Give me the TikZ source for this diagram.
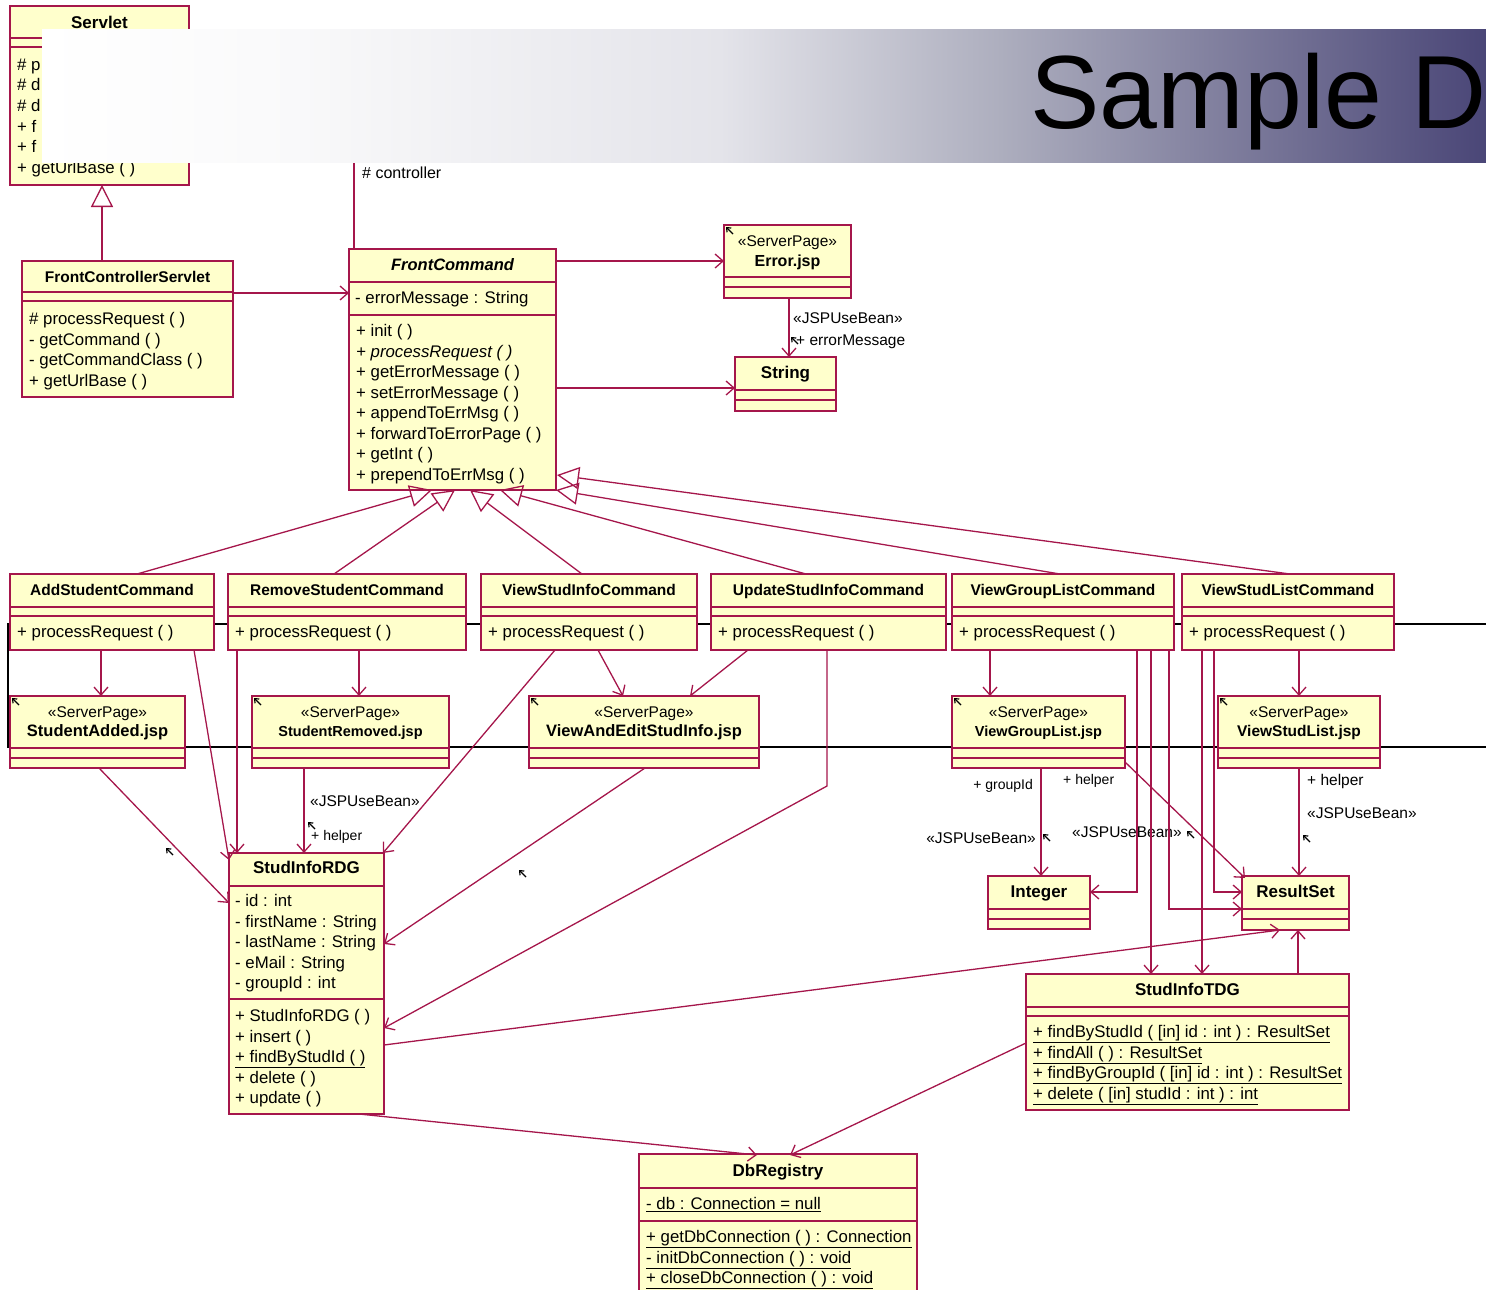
\documentclass[tikz,border=0pt]{standalone}
\usepackage{fontspec}
\setmainfont{Liberation Sans}
\usetikzlibrary{arrows.meta,calc}

\definecolor{umlfill}{HTML}{FFFFCC}
\definecolor{umlline}{HTML}{A5164B}
\definecolor{bandA}{HTML}{F9F9FA}
\definecolor{bandM}{HTML}{E4E4EA}
\definecolor{bandB}{HTML}{ADAEBE}
\definecolor{bandC}{HTML}{4A4677}

\tikzset{
  classbox/.style={draw=umlline, fill=umlfill, line width=1.4pt, inner sep=0pt, outer sep=0pt, anchor=north west},
  dep/.style={draw=umlline, line width=1.3pt, -{Straight Barb[length=8pt,width=14pt]}},
  assoc/.style={draw=umlline, line width=1.3pt},
  gen/.style={draw=umlline, line width=1.3pt, -{Triangle[open,length=22pt,width=22pt]}},
  sepline/.style={draw=umlline, line width=1.2pt},
  member/.style={inner sep=0pt, anchor=base west, font=\fontsize{16.8}{19}\selectfont},
  ctitle/.style={inner sep=0pt, anchor=base, font=\fontsize{#1}{20}\selectfont\bfseries},
  ctitle/.default=15.5,
  stereo/.style={inner sep=0pt, anchor=base, font=\fontsize{15.5}{18}\selectfont},
  lbl/.style={inner sep=0pt, anchor=base west, font=\fontsize{15.5}{18}\selectfont},
  smalllbl/.style={inner sep=0pt, anchor=base west, font=\fontsize{14}{16}\selectfont},
  nwmark/.pic={\draw[black, line width=1.2pt, -{Straight Barb[length=3.5pt,width=6pt]}] (7,7) -- (0,0);}
}

% class box: name, left, top, right, bottom (in px, y downwards)
\newcommand\umlclass[5]{%
  \node[classbox, minimum width={(#4-#2)*1pt}, minimum height={(#5-#3)*1pt}] (#1) at (#2,#3) {};}
% compartment separator at a given depth below the top edge
\newcommand\compsep[2]{%
  \draw[sepline] ($(#1.north west)+(0,#2)$) -- ($(#1.north east)+(0,#2)$);}
% list of member lines: prefix, box, dx, first baseline dy, entries
\newcommand\rows[5]{%
  \foreach \entry [count=\i] in {#5} {%
    \node[member] (#1-\i) at ($(#2.north west)+(#3,{#4+(\i-1)*20.5})$) {\entry};}}

\begin{document}
\begin{tikzpicture}[x=1pt,y=-1pt]
\useasboundingbox (0,0) rectangle (1486,1290);
\clip (0,0) rectangle (1486,1290);

% black frame lines running behind the command row
\draw[black, line width=2pt] (1492,624) -- (8,624) -- (8,747) -- (1492,747);

% ---------- classes ----------
\umlclass{sv}{10}{6}{189}{185}
\umlclass{fcs}{22}{261}{233}{397}
\umlclass{fc}{349}{249}{556}{490}
\umlclass{err}{724}{225}{851}{298}
\umlclass{str}{735}{357}{836}{411}
\umlclass{add}{10}{574}{214}{650}
\umlclass{rem}{228}{574}{466}{650}
\umlclass{vsi}{481}{574}{697}{650}
\umlclass{usi}{711}{574}{946}{650}
\umlclass{vgl}{952}{574}{1174}{650}
\umlclass{vsl}{1182}{574}{1394}{650}
\umlclass{sajsp}{10}{696}{185}{768}
\umlclass{srjsp}{252}{696}{449}{768}
\umlclass{vejsp}{529}{696}{759}{768}
\umlclass{vgljsp}{952}{696}{1125}{768}
\umlclass{vsljsp}{1218}{696}{1380}{768}
\umlclass{rdg}{229}{853}{384}{1114}
\umlclass{int}{988}{876}{1090}{929}
\umlclass{rs}{1242}{876}{1349}{930}
\umlclass{tdg}{1026}{974}{1349}{1110}
\umlclass{db}{639}{1154}{917}{1320}

% Servlet
\node[ctitle=17] (sv-t) at ($(sv.north)+(0,22.5)$) {Servlet};
\compsep{sv}{32}\compsep{sv}{41}
\rows{sv}{sv}{7}{64.5}{\# p, \# d, \# d, + f, + f, + getUrlBase ( )}

% FrontControllerServlet
\node[ctitle] (fcs-t) at ($(fcs.north)+(0,21.5)$) {FrontControllerServlet};
\compsep{fcs}{31}\compsep{fcs}{40}
\rows{fcs}{fcs}{7}{63.5}{\# processRequest ( ), - getCommand ( ), - getCommandClass ( ), + getUrlBase ( )}

% FrontCommand
\node[inner sep=0pt, anchor=base, font=\fontsize{16.5}{20}\selectfont\bfseries\itshape] (fc-t) at ($(fc.north)+(0,21.5)$) {FrontCommand};
\compsep{fc}{33}
\node[member] (fc-a) at ($(fc.north west)+(6,54.5)$) {- errorMessage : String};
\compsep{fc}{66}
\rows{fc}{fc}{7}{87.5}{+ init ( ), {\itshape + processRequest ( )}, + getErrorMessage ( ), + setErrorMessage ( ), + appendToErrMsg ( ), + forwardToErrorPage ( ), + getInt ( ), + prependToErrMsg ( )}

% Error.jsp and String
\node[stereo] (err-s) at ($(err.north)+(0,21.5)$) {«ServerPage»};
\node[ctitle=16] (err-t) at ($(err.north)+(0,41.5)$) {Error.jsp};
\compsep{err}{52}\compsep{err}{62}
\node[ctitle=17] (str-t) at ($(str.north)+(0,21.5)$) {String};
\compsep{str}{33}\compsep{str}{43}

% command classes
\foreach \b/\n in {add/AddStudentCommand, rem/RemoveStudentCommand, vsi/ViewStudInfoCommand, usi/UpdateStudInfoCommand, vgl/ViewGroupListCommand, vsl/ViewStudListCommand} {
  \node[ctitle] (\b-t) at ($(\b.north)+(0,21.5)$) {\n};
  \compsep{\b}{33}\compsep{\b}{42}
  \node[member] (\b-m) at ($(\b.north west)+(7,63.5)$) {+ processRequest ( )};
}

% server pages
\foreach \b/\n/\s in {sajsp/StudentAdded.jsp/16.5, srjsp/StudentRemoved.jsp/14.5, vejsp/ViewAndEditStudInfo.jsp/16.5, vgljsp/ViewGroupList.jsp/14.5, vsljsp/ViewStudList.jsp/15.5} {
  \node[stereo] (\b-s) at ($(\b.north)+(0,21.5)$) {«ServerPage»};
  \node[ctitle=\s] (\b-t) at ($(\b.north)+(0,40.5)$) {\n};
  \compsep{\b}{52}\compsep{\b}{62}
  \pic at ($(\b.north west)+(2,2)$) {nwmark};
}
\pic at ($(err.north west)+(2,2)$) {nwmark};

% StudInfoRDG
\node[ctitle=17] (rdg-t) at ($(rdg.north)+(0,20.5)$) {StudInfoRDG};
\compsep{rdg}{33}
\rows{rdg-a}{rdg}{6}{53.5}{- id : int, - firstName : String, - lastName : String, - eMail : String, - groupId : int}
\compsep{rdg}{146}
\rows{rdg-m}{rdg}{6}{168.5}{+ StudInfoRDG ( ), + insert ( ), {\underline{+ findByStudId ( )}}, + delete ( ), + update ( )}

% Integer and ResultSet
\node[ctitle=17] (int-t) at ($(int.north)+(0,21.5)$) {Integer};
\compsep{int}{33}\compsep{int}{43}
\node[ctitle=17] (rs-t) at ($(rs.north)+(0,21.5)$) {ResultSet};
\compsep{rs}{33}\compsep{rs}{43}

% StudInfoTDG
\node[ctitle=17] (tdg-t) at ($(tdg.north)+(0,21.5)$) {StudInfoTDG};
\compsep{tdg}{33}\compsep{tdg}{42}
\rows{tdg}{tdg}{7}{63.5}{{\underline{+ findByStudId ( [in] id : int ) : ResultSet}}, {\underline{+ findAll ( ) : ResultSet}}, {\underline{+ findByGroupId ( [in] id : int ) : ResultSet}}, {\underline{+ delete ( [in] studId : int ) : int}}}

% DbRegistry
\node[ctitle=17] (db-t) at ($(db.north)+(0,22.5)$) {DbRegistry};
\compsep{db}{34}
\node[member] (db-a) at ($(db.north west)+(7,55.5)$) {\underline{- db : Connection = null}};
\compsep{db}{67}
\rows{db}{db}{7}{88.5}{{\underline{+ getDbConnection ( ) : Connection}}, {\underline{- initDbConnection ( ) : void}}, {\underline{+ closeDbConnection ( ) : void}}}

% ---------- connectors ----------
\coordinate (ctl) at ($(fc.north west)+(5,-120)$);
\draw[assoc] ($(fc.north west)+(5,0)$) -- (ctl);
\node[lbl, font=\fontsize{16}{18}\selectfont] (ctl-l) at ($(fc.north west)+(13,-70.5)$) {\# controller};

\draw[gen] ($(fcs.north west)+(80,0)$) -- ($(sv.north west)+(92,179)$);
\draw[dep] ($(fcs.north west)+(211,32)$) -- ($(fc.north west)+(0,44)$);
\draw[dep] ($(fc.north west)+(207,12)$) -- ($(err.north west)+(0,36)$);
\draw[dep] ($(fc.north west)+(207,139)$) -- ($(str.north west)+(0,31)$);
\draw[dep] ($(err.north west)+(65,73)$) -- ($(str.north west)+(54,0)$);
\node[lbl] (err-bean) at ($(err.north west)+(69,98.3)$) {«JSPUseBean»};
\node[lbl] (err-role) at ($(err.north west)+(72,120.3)$) {+ errorMessage};
\pic at ($(err.north west)+(67,112)$) {nwmark};

% generalizations to FrontCommand
\draw[gen] ($(add.north west)+(127,0)$) -- ($(fc.north west)+(83,241)$);
\draw[gen] ($(rem.north west)+(106,0)$) -- ($(fc.north west)+(106,241)$);
\draw[gen] ($(vsi.north west)+(101,0)$) -- ($(fc.north west)+(121,241)$);
\draw[gen] ($(usi.north west)+(95,0)$) -- ($(fc.north west)+(151,241)$);
\draw[gen] ($(vgl.north west)+(108,0)$) -- ($(fc.north west)+(207,241)$);
\draw[gen] ($(vsl.north west)+(108,0)$) -- ($(fc.north west)+(208,226)$);

% AddStudentCommand
\draw[dep] ($(add.north west)+(91,76)$) -- ($(sajsp.north west)+(91,0)$);
\draw[dep] ($(add.north west)+(184,76)$) -- ($(rdg.north west)+(0,7)$);
\draw[dep] ($(sajsp.north west)+(89,72)$) -- ($(rdg.north west)+(0,50)$);
\pic at ($(sajsp.north west)+(156,152)$) {nwmark};

% RemoveStudentCommand
\draw[dep] ($(rem.north west)+(131,76)$) -- ($(srjsp.north west)+(107,0)$);
\draw[dep] ($(rem.north west)+(9,76)$) -- ($(rdg.north west)+(8,0)$);
\draw[dep] ($(srjsp.north west)+(52,72)$) -- ($(rdg.north west)+(75,0)$);
\node[lbl] (sr-bean) at ($(srjsp.north west)+(58,110.3)$) {«JSPUseBean»};
\node[smalllbl] (sr-role) at ($(srjsp.north west)+(59,144.3)$) {+ helper};
\pic at ($(srjsp.north west)+(56,126)$) {nwmark};

% ViewStudInfoCommand
\draw[dep] ($(vsi.north west)+(74,76)$) -- ($(rdg.north west)+(154,0)$);
\draw[dep] ($(vsi.north west)+(117,76)$) -- ($(vejsp.north west)+(94,0)$);

% UpdateStudInfoCommand
\draw[dep] ($(usi.north west)+(37,76)$) -- ($(vejsp.north west)+(161,0)$);
\draw[dep] ($(usi.north west)+(116,76)$) -- ($(usi.north west)+(116,212)$) -- ($(rdg.north west)+(155,175)$);

% ViewAndEditStudInfo.jsp
\draw[dep] ($(vejsp.north west)+(116,72)$) -- ($(rdg.north west)+(155,91)$);
\pic at ($(vejsp.north west)+(-10,174)$) {nwmark};

% gateways
\draw[dep] ($(rdg.north west)+(155,192)$) -- ($(rs.north west)+(38,54)$);
\draw[dep] ($(rdg.north west)+(130,261)$) -- ($(db.north west)+(118,1)$);
\draw[dep] ($(tdg.north west)+(0,69)$) -- ($(db.north west)+(151,1)$);
\draw[dep] ($(tdg.north west)+(272,0)$) -- ($(rs.north west)+(56,54)$);

% ViewGroupListCommand
\draw[dep] ($(vgl.north west)+(38,76)$) -- ($(vgljsp.north west)+(38,0)$);
\draw[dep] ($(vgljsp.north west)+(89,72)$) -- ($(int.north west)+(53,0)$);
\node[smalllbl, anchor=base east] (vg-role1) at ($(vgljsp.north west)+(81,93.3)$) {+ groupId};
\node[lbl, anchor=base east] (vg-bean1) at ($(vgljsp.north west)+(84,147.3)$) {«JSPUseBean»};
\pic at ($(vgljsp.north west)+(91,138)$) {nwmark};
\draw[dep] ($(vgljsp.north west)+(173,66)$) -- ($(rs.north west)+(3,2)$);
\node[smalllbl] (vg-role2) at ($(vgljsp.north west)+(111,88.3)$) {+ helper};
\node[lbl] (vg-bean2) at ($(vgljsp.north west)+(120,141.3)$) {«JSPUseBean»};
\pic at ($(vgljsp.north west)+(235,135)$) {nwmark};
\draw[dep] ($(vgl.north west)+(185,76)$) |- ($(int.north west)+(102,16)$);
\draw[dep] ($(vgl.north west)+(199,76)$) -- ($(tdg.north west)+(125,0)$);
\draw[dep] ($(vgl.north west)+(217,76)$) |- ($(rs.north west)+(0,33)$);

% ViewStudListCommand
\draw[dep] ($(vsl.north west)+(20,76)$) -- ($(tdg.north west)+(176,0)$);
\draw[dep] ($(vsl.north west)+(32,76)$) |- ($(rs.north west)+(0,16)$);
\draw[dep] ($(vsl.north west)+(117,76)$) -- ($(vsljsp.north west)+(81,0)$);
\draw[dep] ($(vsljsp.north west)+(81,72)$) -- ($(rs.north west)+(57,0)$);
\node[lbl] (vs-role) at ($(vsljsp.north west)+(89,89.3)$) {+ helper};
\node[lbl] (vs-bean) at ($(vsljsp.north west)+(89,122.3)$) {«JSPUseBean»};
\pic at ($(vsljsp.north west)+(85,139)$) {nwmark};

% ---------- title banner ----------
\shade[left color=white, right color=bandA] (42,30) rectangle (301,162);
\shade[left color=bandA, right color=bandM] (300,30) rectangle (721,162);
\shade[left color=bandM, right color=bandB] (720,30) rectangle (1001,162);
\shade[left color=bandB, right color=bandC] (1000,30) rectangle (1486,162);
\node[inner sep=0pt, anchor=base west, font=\fontsize{104}{110}\selectfont] (banner-title) at (1030,128) {Sample D};
\end{tikzpicture}
\end{document}
